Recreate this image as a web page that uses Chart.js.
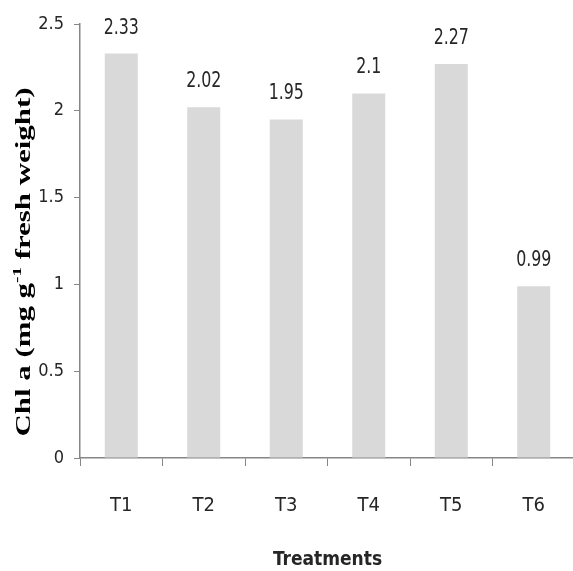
<!DOCTYPE html>
<html>
<head>
<meta charset="utf-8">
<script src="https://cdn.jsdelivr.net/npm/chart.js@4"></script>
<style>
  html, body { margin: 0; padding: 0; background: #fff; overflow: hidden; }
  #wrap { width: 580px; height: 571px; }
</style>
</head>
<body>
<div id="wrap"><canvas id="myChart"></canvas></div>
<script>
// chart data
const categories = ["T1", "T2", "T3", "T4", "T5", "T6"];
const chlValues = [2.33, 2.02, 1.95, 2.1, 2.27, 0.99];
const valueLabels = ["2.33", "2.02", "1.95", "2.1", "2.27", "0.99"];

const axisGrey = "#868686";
const textColor = "#262626";
const narrow = "'Liberation Sans Narrow', 'DejaVu Sans Condensed', sans-serif";

// numbers above each bar (squeezed a bit to look like the narrow original)
const barLabels = {
  id: "barLabels",
  afterDatasetsDraw(chart) {
    const ctx = chart.ctx;
    const meta = chart.getDatasetMeta(0);
    ctx.save();
    ctx.font = "22px " + narrow;
    ctx.fillStyle = textColor;
    ctx.textAlign = "center";
    ctx.textBaseline = "alphabetic";
    meta.data.forEach(function(bar, i) {
      ctx.save();
      ctx.translate(bar.x, bar.y - 20);
      ctx.scale(0.8, 1);
      ctx.fillText(valueLabels[i], 0, 0);
      ctx.restore();
    });
    ctx.restore();
  }
};

// rotated y title with superscript -1
const yTitle = {
  id: "yTitle",
  afterDraw(chart) {
    const ctx = chart.ctx;
    const big = "bold 21px 'Liberation Serif', 'DejaVu Serif', serif";
    const small = "bold 13px 'Liberation Serif', 'DejaVu Serif', serif";
    const parts = [
      { t: "Chl a (mg g", f: big, dy: 0 },
      { t: "-1", f: small, dy: -9 },
      { t: " fresh weight)", f: big, dy: 0 }
    ];
    ctx.save();
    let total = 0;
    parts.forEach(function(p) { ctx.font = p.f; p.w = ctx.measureText(p.t).width; total += p.w; });
    const targetLen = 349;
    ctx.translate(30, 262);
    ctx.rotate(-Math.PI / 2);
    ctx.scale(targetLen / total, 1);
    ctx.fillStyle = "#000";
    ctx.textAlign = "left";
    ctx.textBaseline = "alphabetic";
    let x = -total / 2;
    parts.forEach(function(p) {
      ctx.font = p.f;
      ctx.fillText(p.t, x, p.dy);
      x += p.w;
    });
    ctx.restore();
  }
};

const ctx = document.getElementById("myChart").getContext("2d");
const myChart = new Chart(ctx, {
  type: "bar",
  data: {
    labels: categories,
    datasets: [{
      data: chlValues,
      backgroundColor: "#d9d9d9",
      borderWidth: 0,
      barPercentage: 0.4,
      categoryPercentage: 1.0
    }]
  },
  options: {
    responsive: true,
    maintainAspectRatio: false,
    animation: false,
    layout: { padding: { top: 24, right: 5, left: 0, bottom: 0 } },
    plugins: {
      legend: { display: false },
      tooltip: { enabled: false }
    },
    scales: {
      x: {
        grid: { drawOnChartArea: false, drawTicks: true, tickLength: 8, color: axisGrey, offset: true },
        border: { color: axisGrey, width: 1.5 },
        ticks: { color: textColor, font: { family: narrow, size: 20 }, padding: 28 },
        title: {
          display: true,
          text: "Treatments",
          color: textColor,
          font: { family: narrow, size: 19, weight: "bold" },
          padding: { top: 0, bottom: 0 }
        },
        afterFit(scale) { scale.height = 113; }
      },
      y: {
        min: 0,
        max: 2.5,
        grid: { drawOnChartArea: false, drawTicks: true, tickLength: 6, color: axisGrey },
        border: { color: axisGrey, width: 1.5 },
        ticks: {
          stepSize: 0.5,
          color: textColor,
          font: { family: narrow, size: 18 },
          padding: 10,
          callback: function(v) { return String(v); }
        },
        afterFit(scale) { scale.width = 80; }
      }
    }
  },
  plugins: [barLabels, yTitle]
});
</script>
</body>
</html>
